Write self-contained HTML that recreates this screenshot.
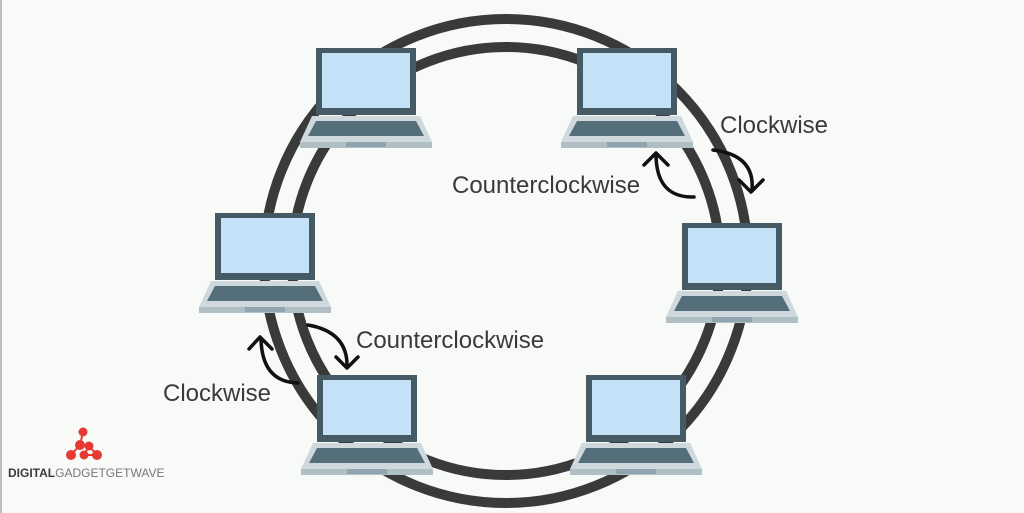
<!DOCTYPE html>
<html><head><meta charset="utf-8"><style>
html,body{margin:0;padding:0;background:#f7faf7;}
svg{display:block}
text{font-family:"Liberation Sans","DejaVu Sans",sans-serif;fill:#3a3a3a;}
</style></head><body>
<svg width="1024" height="513" viewBox="0 0 1024 513" xmlns="http://www.w3.org/2000/svg">
<rect x="0" y="0" width="1024" height="513" fill="#f7faf7"/>
<rect x="0" y="0" width="2" height="513" fill="#bbb"/>
<defs>
<g id="lap">
  <rect x="0" y="0" width="100" height="67" fill="#455a64"/>
  <rect x="6" y="5" width="88" height="55" fill="#c4e2f7"/>
  <polygon points="-4,68 104,68 116,94 -16,94" fill="#cfd8dc"/>
  <polygon points="0,73 100,73 108,88 -8,88" fill="#546e7a"/>
  <rect x="-16" y="94" width="132" height="6" fill="#b0bec5"/>
  <rect x="30" y="94" width="40" height="5" fill="#90a4ae"/>
</g>
</defs>
<circle cx="506" cy="261" r="242" fill="none" stroke="#3a3a3a" stroke-width="10"/>
<circle cx="506" cy="261" r="214" fill="none" stroke="#3a3a3a" stroke-width="10"/>
<use href="#lap" x="316" y="48"/>
<use href="#lap" x="577" y="48"/>
<use href="#lap" x="215" y="213"/>
<use href="#lap" x="682" y="223"/>
<use href="#lap" x="317" y="375"/>
<use href="#lap" x="586" y="375"/>
<g fill="none" stroke="#111" stroke-width="3.5" stroke-linecap="round" stroke-linejoin="round">
  <path d="M694,197 Q656,198 656,154"/>
  <path d="M644,165 L656,153 L668,165"/>
  <path d="M713,150 Q755,155 752,190"/>
  <path d="M739,180 L751,192 L763,180"/>
  <path d="M308,325 Q348,332 347,367"/>
  <path d="M336,357 L347,368 L358,357"/>
  <path d="M298,383 Q262,382 261,339"/>
  <path d="M249,349 L260,337 L272,349"/>
</g>
<text x="720" y="133" font-size="24">Clockwise</text>
<text x="452" y="193" font-size="24">Counterclockwise</text>
<text x="356" y="348" font-size="24">Counterclockwise</text>
<text x="163" y="401" font-size="24">Clockwise</text>
<g fill="#e53935" stroke="#e53935" stroke-width="2">
  <line x1="83" y1="432" x2="80" y2="445"/><line x1="80" y1="445" x2="71" y2="455"/><line x1="80" y1="445" x2="89" y2="446"/><line x1="89" y1="446" x2="84" y2="455"/><line x1="84" y1="455" x2="97" y2="455"/><line x1="89" y1="446" x2="97" y2="455"/>
  <circle cx="83" cy="432" r="3.5"/><circle cx="80" cy="445" r="4"/><circle cx="89" cy="446" r="3.5"/><circle cx="71" cy="455" r="4"/><circle cx="84" cy="455" r="3.5"/><circle cx="97" cy="455" r="4"/>
</g>
<text x="8" y="477" font-size="12" font-weight="bold" fill="#222">DIGITAL<tspan font-weight="normal" fill="#777">GADGETGETWAVE</tspan></text>
</svg>
</body></html>
